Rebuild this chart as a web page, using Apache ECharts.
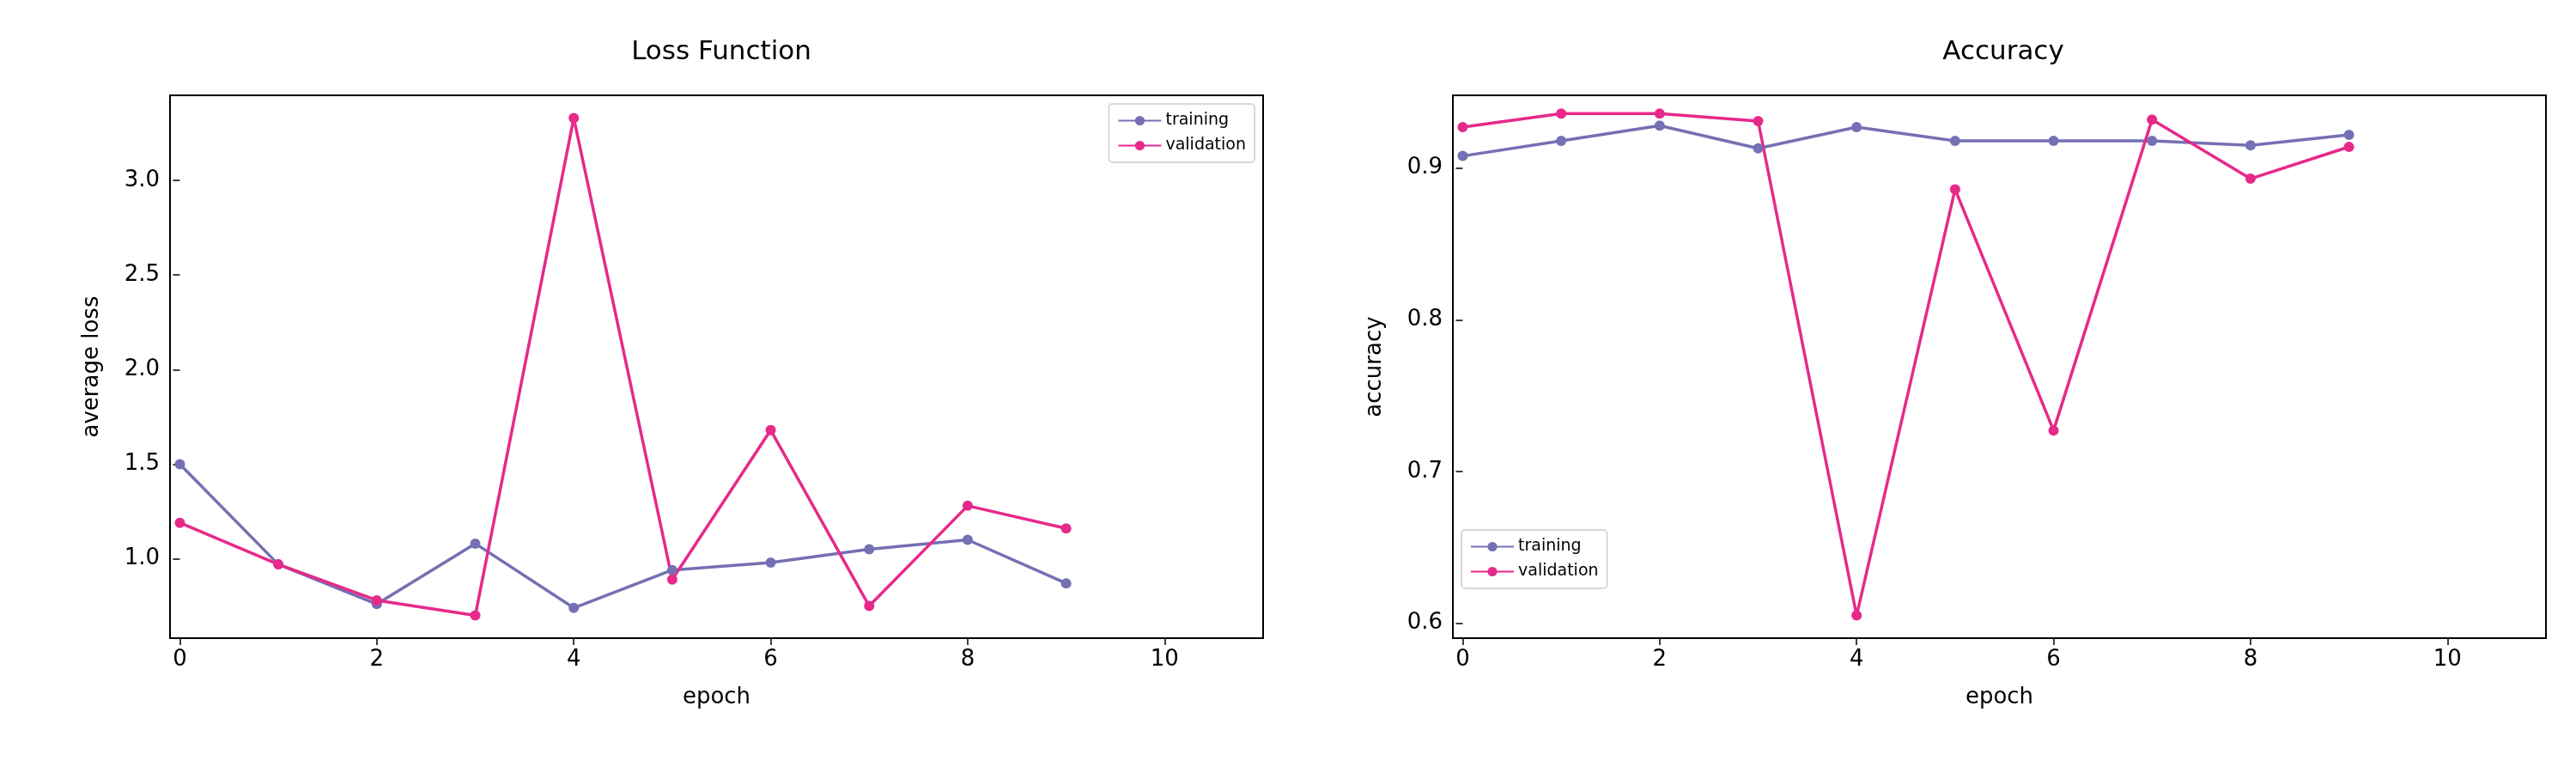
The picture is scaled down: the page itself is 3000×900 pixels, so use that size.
<!DOCTYPE html>
<html>
<head>
<meta charset="utf-8">
<script src="https://cdn.jsdelivr.net/npm/echarts@6/dist/echarts.min.js"></script>
<style>html,body{margin:0;background:#fff}#c{width:3000px;height:900px}</style>
</head>
<body>
<div id="c"></div>
<script>
// data
var epochs = [0, 1, 2, 3, 4, 5, 6, 7, 8, 9];
var lossTrain = [1.50, 0.97, 0.76, 1.08, 0.74, 0.94, 0.98, 1.05, 1.10, 0.87];
var lossVal = [1.19, 0.97, 0.78, 0.70, 3.33, 0.89, 1.68, 0.75, 1.28, 1.16];
var accTrain = [0.908, 0.918, 0.928, 0.913, 0.927, 0.918, 0.918, 0.918, 0.915, 0.922];
var accVal = [0.927, 0.936, 0.936, 0.931, 0.605, 0.886, 0.727, 0.932, 0.893, 0.914];
var xTicks = [0, 2, 4, 6, 8, 10];
var lossTicks = [1.0, 1.5, 2.0, 2.5, 3.0];
var accTicks = [0.6, 0.7, 0.8, 0.9];

var FONT = 'DejaVu Sans';
var C_TRAIN = '#7570b3', C_VAL = '#e7298a';

function pairs(ys) {
    return epochs.map(function (x, i) { return [x, ys[i]]; });
}
function xAxis(idx) {
    return {
        gridIndex: idx, type: 'value', min: -0.1, max: 11,
        name: 'epoch', nameLocation: 'middle', nameGap: 56,
        nameTextStyle: {fontFamily: FONT, fontSize: 26, color: '#000'},
        axisLine: {show: false}, splitLine: {show: false},
        axisTick: {show: true, customValues: xTicks, length: 8, lineStyle: {color: '#000', width: 1.5}},
        axisLabel: {customValues: xTicks, fontFamily: FONT, fontSize: 26, color: '#000', margin: 12}
    };
}
function yAxis(idx, name, min, max, ticks) {
    return {
        gridIndex: idx, type: 'value', min: min, max: max,
        name: name, nameLocation: 'middle', nameGap: 78,
        nameTextStyle: {fontFamily: FONT, fontSize: 26, color: '#000'},
        axisLine: {show: false}, splitLine: {show: false},
        axisTick: {show: true, customValues: ticks, length: 8, lineStyle: {color: '#000', width: 1.5}},
        axisLabel: {customValues: ticks, fontFamily: FONT, fontSize: 26, color: '#000', margin: 12,
            formatter: function (v) { return v.toFixed(1); }}
    };
}
function line(name, idx, ys, color) {
    return {
        name: name, type: 'line', xAxisIndex: idx, yAxisIndex: idx, data: pairs(ys),
        symbol: 'circle', symbolSize: 12, lineStyle: {color: color, width: 3.5},
        itemStyle: {color: color}
    };
}
var legendBase = {
    orient: 'vertical', itemWidth: 50, itemHeight: 14, itemGap: 10,
    borderColor: '#ccc', borderWidth: 1.5, borderRadius: 4, padding: [10, 10],
    textStyle: {fontFamily: FONT, fontSize: 19, color: '#000'},
    data: ['training', 'validation']
};

var chart = echarts.init(document.getElementById('c'));
chart.setOption({
    animation: false,
    title: [
        {text: 'Loss Function', left: 835, top: 40, textAlign: 'center',
            textStyle: {fontFamily: FONT, fontSize: 31, fontWeight: 'normal', color: '#000'}},
        {text: 'Accuracy', left: 2328, top: 40, textAlign: 'center',
            textStyle: {fontFamily: FONT, fontSize: 31, fontWeight: 'normal', color: '#000'}}
    ],
    grid: [
        {left: 198, top: 111, width: 1273, height: 632, show: true, borderColor: '#000', borderWidth: 2},
        {left: 1692, top: 111, width: 1273, height: 632, show: true, borderColor: '#000', borderWidth: 2}
    ],
    legend: [
        Object.assign({}, legendBase, {right: 3000 - 1461, top: 121}),
        Object.assign({}, legendBase, {left: 1702, top: 617})
    ],
    xAxis: [xAxis(0), xAxis(1)],
    yAxis: [yAxis(0, 'average loss', 0.58, 3.45, lossTicks), yAxis(1, 'accuracy', 0.59, 0.948, accTicks)],
    series: [
        line('training', 0, lossTrain, C_TRAIN),
        line('validation', 0, lossVal, C_VAL),
        line('training', 1, accTrain, C_TRAIN),
        line('validation', 1, accVal, C_VAL)
    ]
});
</script>
</body>
</html>
